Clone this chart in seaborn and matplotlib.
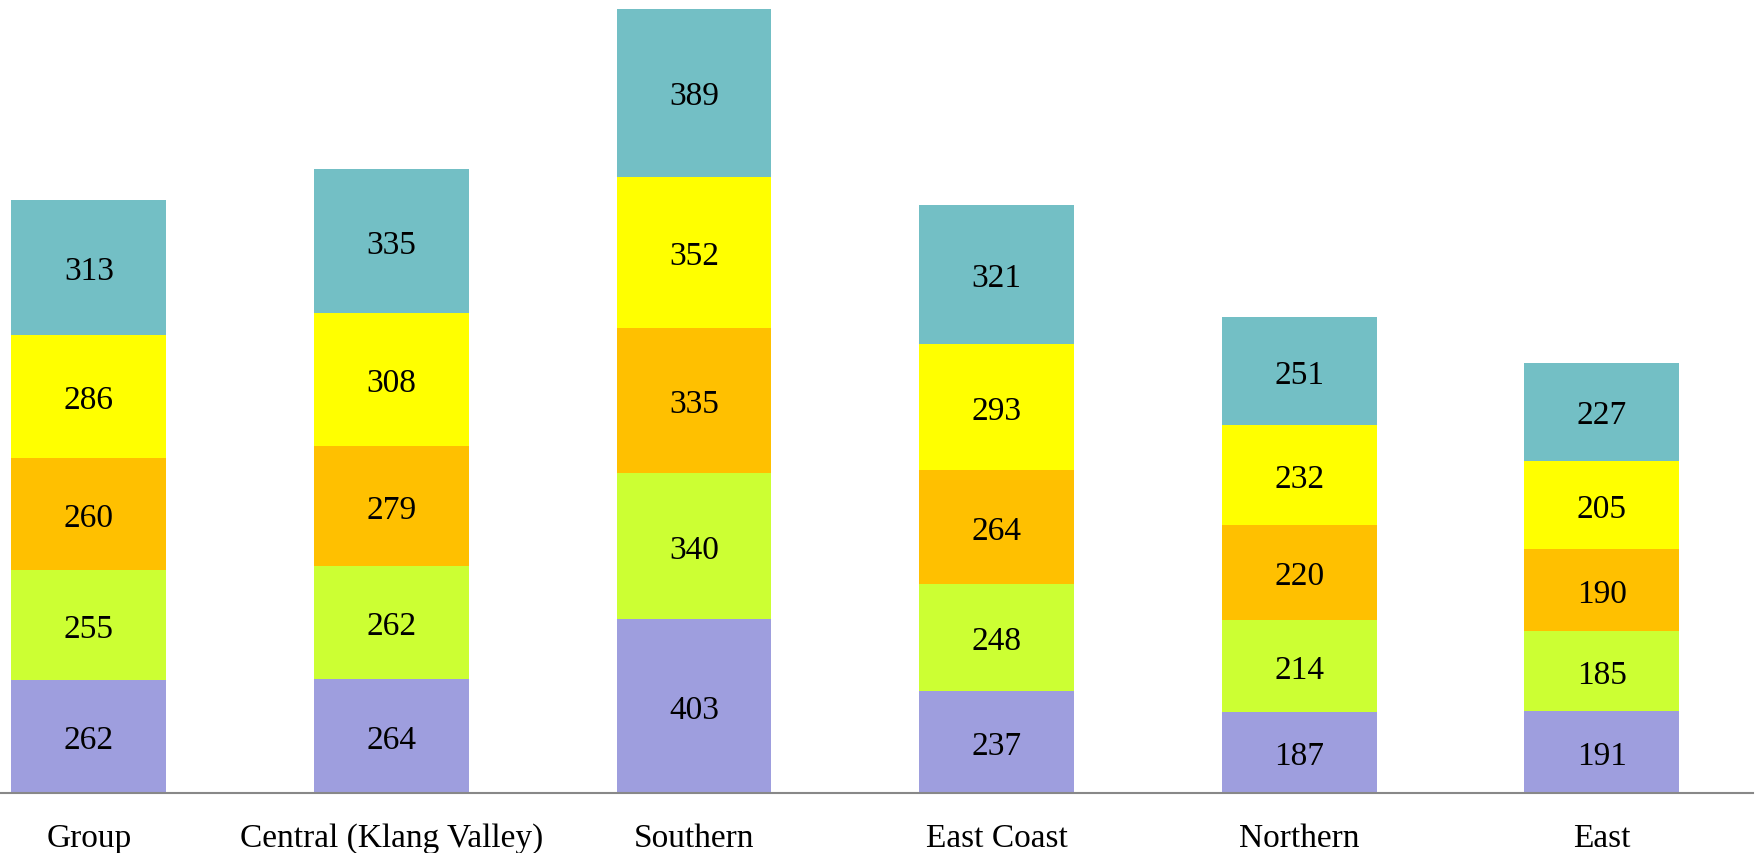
import matplotlib
matplotlib.use("Agg")
import matplotlib.pyplot as plt
import seaborn as sns
import pandas as pd
import numpy as np

categories = ["Group", "Central (Klang Valley)", "Southern", "East Coast", "Northern", "East"]
s1 = [262, 264, 403, 237, 187, 191]
s2 = [255, 262, 340, 248, 214, 185]
s3 = [260, 279, 335, 264, 220, 190]
s4 = [286, 308, 352, 293, 232, 205]
s5 = [313, 335, 389, 321, 251, 227]
series = [s1, s2, s3, s4, s5]
colors = ["#9E9EDE", "#CCFF33", "#FFC000", "#FFFF00", "#73BFC5"]

sns.set_theme(style="white")
plt.rcParams['font.family'] = ['Liberation Serif', 'DejaVu Serif']

fig = plt.figure(figsize=(17.63, 8.54), dpi=100)
ax = fig.add_axes([0.0, 0.0703, 0.9943, 0.9297])

bottom = np.zeros(len(categories))
for vals, col in zip(series, colors):
    df = pd.DataFrame({"cat": categories, "val": vals})
    sns.barplot(data=df, x="cat", y="val", bottom=bottom, color=col, width=0.512,
                saturation=1, ax=ax, linewidth=0, order=categories)
    for i, v in enumerate(vals):
        ax.text(i, bottom[i] + v / 2, str(v), ha="center", va="center_baseline",
                fontsize=24, color="black")
    bottom = bottom + np.array(vals)

ax.set_xlim(-0.294, 5.5)
ax.set_ylim(0, 1842)
ax.set_xlabel("")
ax.set_ylabel("")
ax.set_yticks([])
ax.tick_params(axis="x", length=0, pad=21, labelsize=24, labelcolor="black")
for s in ["top", "left", "right"]:
    ax.spines[s].set_visible(False)
ax.spines["bottom"].set_color("#888888")
ax.spines["bottom"].set_linewidth(1.5)

fig.savefig("out.png", dpi=100, facecolor="white")
